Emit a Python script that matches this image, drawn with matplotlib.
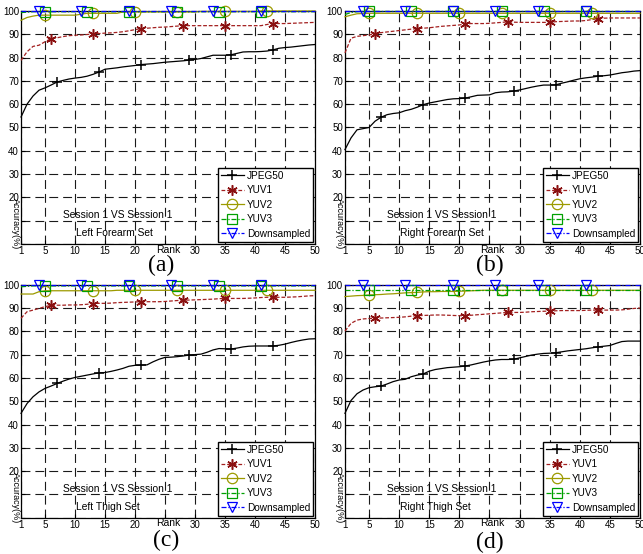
import matplotlib.pyplot as plt

plt.rcParams['font.family'] = ['Liberation Sans', 'DejaVu Sans']

rank = list(range(1, 51))
series_names = ['JPEG50', 'YUV1', 'YUV2', 'YUV3', 'Downsampled']
panel_tags = ['(a)', '(b)', '(c)', '(d)']
set_names = ['Left Forearm Set', 'Right Forearm Set', 'Left Thigh Set', 'Right Thigh Set']
x_ticks = [1, 5, 10, 15, 20, 25, 30, 35, 40, 45, 50]
x_labels = ['1', '5', '10', '15', '20', '', '30', '35', '40', '45', '50']
y_ticks = [0, 10, 20, 30, 40, 50, 60, 70, 80, 90, 100]
y_labels = ['', '', '20', '30', '40', '50', '60', '70', '80', '90', '100']

# (a) left forearm
a_jpeg50 = [54.5, 60, 63.5, 66, 67, 68.2, 69.5, 70.2, 70.8, 71.2,
            71.5, 72, 72.8, 73.8, 75, 75.3, 75.6, 76, 76.3, 76.6,
            77, 77.2, 77.4, 77.7, 78, 78.2, 78.4, 78.6, 78.9, 79.2,
            79.6, 80.3, 81, 81, 81, 81.2, 81.8, 82.4, 82.5, 82.5,
            82.6, 82.8, 83.3, 84, 84.3, 84.5, 84.8, 85.1, 85.4, 85.6]
a_yuv1 = [78.8, 82.5, 84.8, 85.3, 86.8, 88.1, 88.5, 89, 89.4, 89.6,
          89.7, 89.9, 90.1, 90.3, 90.5, 90.6, 90.8, 91.1, 91.5, 92,
          92.4, 92.6, 92.8, 93, 93.1, 93.3, 93.5, 93.7, 93.7, 93.7,
          93.7, 93.7, 93.7, 93.7, 93.7, 93.7, 93.7, 93.7, 93.7, 93.7,
          93.7, 94.2, 94.6, 94.6, 94.6, 94.7, 94.8, 94.9, 95, 95.1]
a_yuv2 = [96, 97.2, 97.8, 98.2, 98.2, 98.2, 98.2, 98.2, 98.2, 98.2,
          98.6, 99, 99, 99, 99, 99, 99, 99.6, 99.6, 99.6,
          99.6, 99.6, 99.6, 99.6, 99.6, 99.6, 99.6, 99.6, 99.6, 99.6,
          99.8, 99.8, 99.8, 99.8, 99.8, 99.8, 99.8, 99.8, 99.8, 99.8,
          100, 100, 100, 100, 100, 100, 100, 100, 100, 100]
a_yuv3 = [99.3, 99.5, 99.7, 99.7, 99.7, 99.7, 99.7, 99.7, 99.7, 99.7,
          99.7, 99.7, 99.7, 99.7, 99.7, 99.7, 99.7, 99.7, 99.7, 99.7,
          99.7, 99.7, 99.7, 99.7, 99.7, 99.7, 99.7, 99.7, 99.7, 99.7,
          99.7, 99.7, 99.7, 99.7, 99.7, 99.7, 99.7, 99.7, 99.7, 99.7,
          99.7, 99.7, 99.7, 99.7, 99.7, 99.7, 99.7, 99.7, 99.7, 99.7]
a_down = [100, 100, 100, 100, 100, 100, 100, 100, 100, 100,
          100, 100, 100, 100, 100, 100, 100, 100, 100, 100,
          100, 100, 100, 100, 100, 100, 100, 100, 100, 100,
          100, 100, 100, 100, 100, 100, 100, 100, 100, 100,
          100, 100, 100, 100, 100, 100, 100, 100, 100, 100]

# (b) right forearm
b_jpeg50 = [40.5, 45.5, 49, 49.5, 50, 52.7, 54.4, 55.5, 56, 56.3,
            57.2, 57.8, 58.7, 59.8, 60.5, 61, 61.5, 62, 62.3, 62.4,
            62.6, 63.2, 63.8, 63.9, 64, 64.9, 65.2, 65.3, 65.6, 66.1,
            66.7, 67.3, 67.8, 68.2, 68.2, 68.3, 69, 69.6, 70.3, 70.9,
            71.3, 71.6, 72, 72.2, 72.5, 73, 73.5, 73.8, 74.2, 74.4]
b_yuv1 = [82, 88.3, 89.1, 89.4, 89.7, 90.3, 90.7, 91, 91.3, 91.6,
          91.9, 92.2, 92.4, 92.6, 92.8, 93.1, 93.4, 93.6, 93.8, 94,
          94.5, 94.6, 94.6, 94.6, 94.7, 94.9, 95.1, 95.3, 95.2, 95.1,
          95.1, 95.1, 95.1, 95.1, 95.1, 95.4, 95.5, 95.6, 95.7, 95.7,
          95.9, 96.3, 96.7, 96.9, 97, 97, 97, 97, 97, 97]
b_yuv2 = [97.5, 98.2, 98.8, 98.9, 99, 99, 99, 99, 99, 99,
          99, 99, 99, 99, 99, 99, 99, 99, 99, 99,
          99, 99, 99, 99, 99, 99, 99, 99, 99, 99,
          99, 99, 99, 99, 99, 99, 99, 99, 99, 99,
          99, 99, 99, 99, 99, 99, 99, 99, 99, 99]
b_yuv3 = [98.5, 99.3, 99.7, 99.8, 99.8, 99.8, 99.8, 99.8, 99.8, 99.8,
          99.8, 99.8, 99.8, 99.8, 99.8, 99.8, 99.8, 99.8, 99.8, 99.8,
          99.8, 99.8, 99.8, 99.8, 99.8, 99.8, 99.8, 99.8, 99.8, 99.8,
          99.8, 99.8, 99.8, 99.8, 99.8, 99.8, 99.8, 99.8, 99.8, 99.8,
          99.8, 99.8, 99.8, 99.8, 99.8, 99.8, 99.8, 99.8, 99.8, 99.8]
b_down = [100, 100, 100, 100, 100, 100, 100, 100, 100, 100,
          100, 100, 100, 100, 100, 100, 100, 100, 100, 100,
          100, 100, 100, 100, 100, 100, 100, 100, 100, 100,
          100, 100, 100, 100, 100, 100, 100, 100, 100, 100,
          100, 100, 100, 100, 100, 100, 100, 100, 100, 100]

# (c) left thigh
c_jpeg50 = [44.8, 49, 51.9, 54, 55.5, 56.5, 57.6, 58.6, 59.5, 60.2,
            60.7, 61.2, 61.7, 62.2, 62.3, 62.8, 63.4, 64.1, 65, 65.4,
            65.5, 65.6, 66.9, 68, 68.8, 68.9, 69.1, 69.4, 69.8, 70,
            70.2, 71, 72, 72.6, 72.5, 72.4, 72.8, 73.3, 73.6, 73.7,
            73.7, 73.7, 73.7, 74, 74.5, 75.2, 75.8, 76.3, 76.7, 76.8]
c_yuv1 = [85.6, 88.4, 89.1, 89.8, 90.6, 91.1, 91.2, 91.2, 91.3, 91.3,
          91.4, 91.6, 91.9, 92, 92, 92.1, 92.3, 92.4, 92.5, 92.6,
          92.7, 92.7, 92.7, 92.7, 92.8, 93, 93.2, 93.4, 93.4, 93.5,
          93.6, 93.7, 93.8, 94, 94.1, 94.1, 94.1, 94.1, 94.2, 94.3,
          94.5, 94.6, 94.6, 94.6, 94.6, 94.7, 94.8, 95, 95.2, 95.3]
c_yuv2 = [96, 96, 96, 97, 97.4, 97.4, 97.4, 97.4, 97.4, 97.4,
          97.4, 97.4, 97.4, 97.4, 97.4, 97.4, 97.6, 97.6, 97.6, 97.6,
          97.6, 97.6, 97.6, 97.6, 97.6, 97.6, 97.6, 97.6, 97.6, 97.6,
          97.6, 97.6, 97.6, 97.6, 97.6, 97.6, 97.6, 97.6, 97.6, 97.6,
          97.6, 97.6, 97.6, 97.6, 97.6, 97.6, 97.6, 97.6, 97.6, 97.6]
c_yuv3 = [99.1, 99.3, 99.5, 99.5, 99.5, 99.5, 99.5, 99.5, 99.5, 99.5,
          99.5, 99.5, 99.5, 99.5, 99.5, 99.5, 99.5, 99.5, 99.5, 99.5,
          99.5, 99.5, 99.5, 99.5, 99.5, 99.5, 99.5, 99.5, 99.5, 99.5,
          99.5, 99.5, 99.5, 99.5, 99.5, 99.5, 99.5, 99.5, 99.5, 99.5,
          99.5, 99.5, 99.5, 99.5, 99.5, 99.5, 99.5, 99.5, 99.5, 99.5]
c_down = [100, 100, 100, 100, 100, 100, 100, 100, 100, 100,
          100, 100, 100, 100, 100, 100, 100, 100, 100, 100,
          100, 100, 100, 100, 100, 100, 100, 100, 100, 100,
          100, 100, 100, 100, 100, 100, 100, 100, 100, 100,
          100, 100, 100, 100, 100, 100, 100, 100, 100, 100]

# (d) right thigh
d_jpeg50 = [44.8, 50.3, 53.2, 54.8, 55.8, 56.2, 56.5, 57.4, 58.4, 59.1,
            59.4, 60.5, 61.2, 61.7, 62.9, 63.6, 64, 64.4, 64.6, 64.8,
            65.1, 65.6, 66.2, 66.8, 67.3, 67.7, 67.9, 67.9, 68, 68.6,
            69.2, 69.8, 70.2, 70.5, 70.6, 70.8, 71.2, 71.6, 71.9, 72.2,
            72.5, 72.9, 73.3, 73.6, 73.9, 74.8, 75.6, 75.8, 75.8, 75.8]
d_yuv1 = [80.1, 83.4, 84.8, 85.3, 85.5, 85.6, 85.7, 85.8, 85.9, 86,
          86.2, 86.5, 86.7, 86.8, 86.9, 87, 87, 86.9, 86.8, 86.7,
          86.7, 86.9, 87.1, 87.3, 87.5, 87.7, 87.9, 88.1, 88.1, 88.1,
          88.2, 88.4, 88.5, 88.6, 88.7, 88.8, 88.9, 88.9, 88.9, 88.9,
          89, 89.1, 89.1, 89.1, 89.1, 89.1, 89.2, 89.5, 89.8, 90]
d_yuv2 = [94.9, 95.1, 95.3, 95.4, 95.6, 95.7, 95.8, 96, 96.1, 96.3,
          96.5, 96.6, 96.7, 96.9, 97, 97, 97.1, 97.1, 97.1, 97.2,
          97.3, 97.4, 97.5, 97.6, 97.6, 97.6, 97.6, 97.6, 97.6, 97.6,
          97.6, 97.6, 97.6, 97.6, 97.6, 97.6, 97.6, 97.6, 97.6, 97.6,
          97.6, 97.6, 97.6, 97.6, 97.6, 97.6, 97.6, 97.6, 97.6, 97.6]
d_yuv3 = [97.8, 97.8, 97.8, 97.8, 97.8, 97.8, 97.8, 97.8, 97.8, 97.8,
          97.8, 97.8, 97.8, 97.8, 97.8, 97.8, 97.8, 97.8, 97.8, 97.8,
          97.8, 97.8, 97.8, 97.8, 97.8, 97.8, 97.8, 97.8, 97.8, 97.8,
          97.8, 97.8, 97.8, 97.8, 97.8, 97.8, 97.8, 97.8, 97.8, 97.8,
          97.8, 97.8, 97.8, 97.8, 97.8, 97.8, 97.8, 97.8, 97.8, 97.8]
d_down = [99.7, 99.7, 99.7, 99.7, 99.7, 99.7, 99.7, 99.7, 99.7, 99.7,
          99.7, 99.7, 99.7, 99.7, 99.7, 99.7, 99.7, 99.7, 99.7, 99.7,
          99.7, 99.7, 99.7, 99.7, 99.7, 99.7, 99.7, 99.7, 99.7, 99.7,
          99.7, 99.7, 99.7, 99.7, 99.7, 99.7, 99.7, 99.7, 99.7, 99.7,
          99.7, 99.7, 99.7, 99.7, 99.7, 99.7, 99.7, 99.7, 99.7, 99.7]

panel_data = [[a_jpeg50, a_yuv1, a_yuv2, a_yuv3, a_down],
              [b_jpeg50, b_yuv1, b_yuv2, b_yuv3, b_down],
              [c_jpeg50, c_yuv1, c_yuv2, c_yuv3, c_down],
              [d_jpeg50, d_yuv1, d_yuv2, d_yuv3, d_down]]

colors = ['black', '#a32020', '#9c9a00', '#00a000', '#0000ff']
styles = ['-', (0, (3, 1.5)), '-', (0, (4, 1.5, 1, 1.5)), (0, (4, 1.5, 1, 1.5))]
# MATLAB style asterisk for YUV1
markers = ['+', (6, 2, 0), 'o', 's', 'v']
mark_idx = [[6, 13, 20, 28, 35, 42],
            [5, 12, 20, 27, 34, 42],
            [4, 12, 19, 26, 34, 41],
            [4, 11, 18, 26, 33, 40],
            [3, 10, 18, 25, 32, 40]]

boxes = [[0.0327, 0.5596, 0.4572, 0.4206],
         [0.5365, 0.5596, 0.4588, 0.4206],
         [0.0327, 0.0655, 0.4572, 0.4206],
         [0.5365, 0.0655, 0.4588, 0.4206]]
tag_pos = [(0.250, 0.520), (0.762, 0.520), (0.258, 0.024), (0.762, 0.021)]

fig = plt.figure(figsize=(6.43, 5.54), dpi=100)

for p in range(4):
    ax = fig.add_axes(boxes[p])
    for s in range(5):
        if s < 2:
            face = colors[s]
            edge = '#8a1010' if s == 1 else colors[s]
            mw = 1.1
        else:
            face = 'none'
            edge = colors[s]
            mw = 0.9
        ax.plot(rank, panel_data[p][s], color=colors[s], linestyle=styles[s], lw=0.9,
                marker=markers[s], markevery=mark_idx[s], ms=7.5, mfc=face,
                mec=edge, mew=mw, label=series_names[s], clip_on=False, zorder=3 + s)
    ax.set_xlim(1, 50)
    ax.set_ylim(0, 100)
    ax.set_xticks(x_ticks)
    ax.set_xticklabels(x_labels)
    ax.set_yticks(y_ticks)
    ax.set_yticklabels(y_labels)
    ax.tick_params(direction='in', length=3, labelsize=7, pad=1.5, width=0.8)
    ax.grid(True, color='#1a1a1a', linestyle=(0, (8, 4.5)), lw=0.8)
    for sp in ax.spines.values():
        sp.set_linewidth(0.9)
    ax.text(0.5, -0.024, 'Rank', transform=ax.transAxes, ha='center', va='center', fontsize=7.5)
    ax.text(-0.02, 8.6, 'Accuracy(%)', transform=ax.get_yaxis_transform(), rotation=270,
            ha='center', va='center', fontsize=6.5)
    ax.text(8, 12.3, 'Session 1 VS Session 1', ha='left', va='center', fontsize=7.4)
    ax.text(10.2, 4.5, set_names[p], ha='left', va='center', fontsize=7.4)
    leg = ax.legend(loc='lower right', fontsize=7.2, fancybox=False, edgecolor='black',
                    framealpha=1, borderpad=0.3, labelspacing=0.45, handlelength=2.3,
                    handletextpad=0.3, borderaxespad=0.2, numpoints=1)
    leg.get_frame().set_linewidth(1.0)
    leg.set_zorder(10)
    fig.text(tag_pos[p][0], tag_pos[p][1], panel_tags[p], family='Liberation Serif',
             fontsize=17, ha='center', va='center')

fig.savefig('out.png', dpi=100)
